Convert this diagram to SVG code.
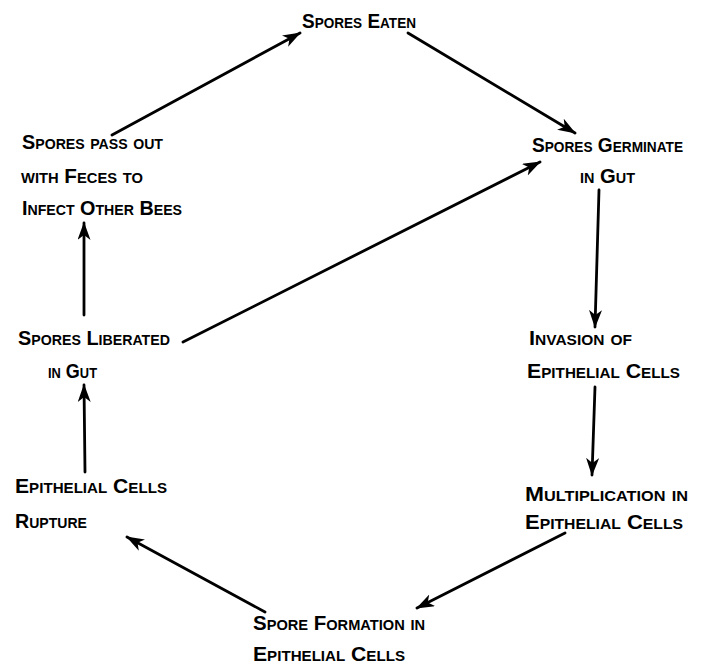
<svg xmlns="http://www.w3.org/2000/svg" width="704" height="667" viewBox="0 0 704 667">
<style>
text{font-family:"Liberation Sans","DejaVu Sans",sans-serif;font-weight:bold;font-variant:small-caps;font-size:21px;fill:#000}
.c{fill:none;stroke:#000;stroke-width:2.8;stroke-linecap:round}
</style>
<defs>
<marker id="ah" markerUnits="userSpaceOnUse" markerWidth="22" markerHeight="14" refX="17" refY="6.5" orient="auto">
<path d="M0,0 L18,6.5 L0,13 L5,6.5 Z" fill="#000"/>
</marker>
</defs>
<rect width="704" height="667" fill="#fff"/>
<g id="connectors">
<line class="c" x1="112" y1="135" x2="300" y2="33" marker-end="url(#ah)"/>
<line class="c" x1="408" y1="33" x2="575" y2="133" marker-end="url(#ah)"/>
<line class="c" x1="183" y1="342" x2="540" y2="162" marker-end="url(#ah)"/>
<line class="c" x1="599" y1="190" x2="595" y2="327" marker-end="url(#ah)"/>
<line class="c" x1="595" y1="387" x2="592" y2="475" marker-end="url(#ah)"/>
<line class="c" x1="565" y1="533" x2="417" y2="608" marker-end="url(#ah)"/>
<line class="c" x1="265" y1="612" x2="127" y2="537" marker-end="url(#ah)"/>
<line class="c" x1="85" y1="472" x2="84" y2="385" marker-end="url(#ah)"/>
<line class="c" x1="84" y1="315" x2="84" y2="223" marker-end="url(#ah)"/>
</g>
<g id="spores-eaten"><text x="302" y="28" textLength="114" lengthAdjust="spacingAndGlyphs">Spores Eaten</text></g>
<g id="spores-germinate"><text x="532" y="152" textLength="151" lengthAdjust="spacingAndGlyphs">Spores Germinate</text><text x="580" y="183" textLength="55" lengthAdjust="spacingAndGlyphs">in Gut</text></g>
<g id="invasion"><text x="529" y="345" textLength="103" lengthAdjust="spacingAndGlyphs">Invasion of</text><text x="527" y="378" textLength="153" lengthAdjust="spacingAndGlyphs">Epithelial Cells</text></g>
<g id="multiplication"><text x="525" y="501" textLength="163" lengthAdjust="spacingAndGlyphs">Multiplication in</text><text x="525" y="529" textLength="158" lengthAdjust="spacingAndGlyphs">Epithelial Cells</text></g>
<g id="spore-formation"><text x="253" y="630" textLength="172" lengthAdjust="spacingAndGlyphs">Spore Formation in</text><text x="253" y="661" textLength="152" lengthAdjust="spacingAndGlyphs">Epithelial Cells</text></g>
<g id="rupture"><text x="15" y="493" textLength="152" lengthAdjust="spacingAndGlyphs">Epithelial Cells</text><text x="15" y="528" textLength="72" lengthAdjust="spacingAndGlyphs">Rupture</text></g>
<g id="liberated"><text x="18" y="345" textLength="152" lengthAdjust="spacingAndGlyphs">Spores Liberated</text><text x="48" y="378" textLength="49" lengthAdjust="spacingAndGlyphs">in Gut</text></g>
<g id="pass-out"><text x="22" y="149" textLength="141" lengthAdjust="spacingAndGlyphs">Spores pass out</text><text x="21" y="183" textLength="122" lengthAdjust="spacingAndGlyphs">with Feces to</text><text x="22" y="215" textLength="160" lengthAdjust="spacingAndGlyphs">Infect Other Bees</text></g>
</svg>
